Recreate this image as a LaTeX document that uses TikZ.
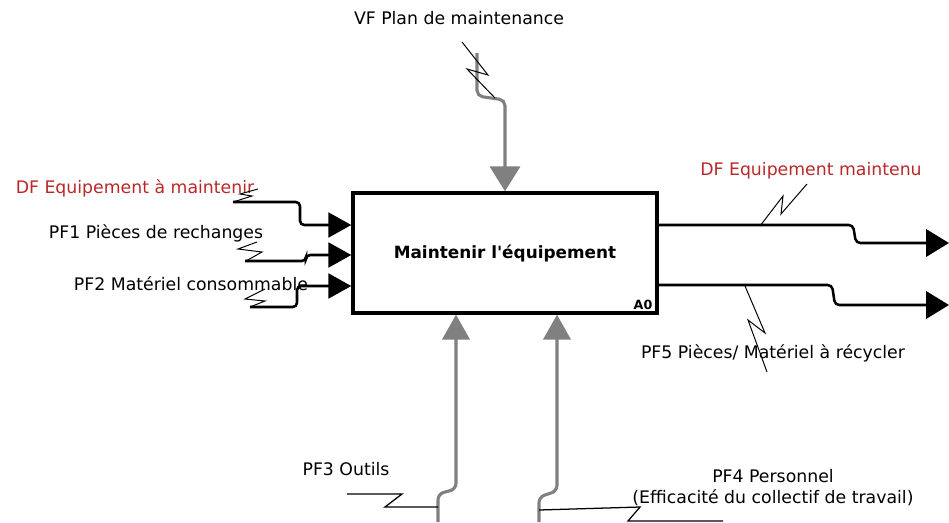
\documentclass[tikz,border=0pt]{standalone}
\usepackage{fontspec}
\setmainfont{DejaVu Sans}
\usetikzlibrary{arrows.meta}

\definecolor{dfred}{RGB}{185,40,40}
\definecolor{ctrlgray}{RGB}{128,128,128}

\tikzset{
  lbl/.style={font=\fontsize{12.3}{15}\selectfont, inner sep=0pt},
  fonction/.style={draw, line width=2.4pt, minimum width=7.6cm, minimum height=3cm,
    inner sep=0pt, font=\bfseries\fontsize{12}{14}\selectfont},
  entree/.style={line width=1.8pt, rounded corners=3pt,
    -{Triangle[length=0.57cm,width=0.62cm]}},
  sortie/.style={line width=1.8pt, rounded corners=3pt,
    -{Triangle[length=0.57cm,width=0.68cm]}},
  controle/.style={ctrlgray, line width=2.2pt, rounded corners=4pt,
    -{Triangle[length=0.62cm,width=0.75cm]}},
  mecanisme/.style={ctrlgray, line width=2.2pt, rounded corners=4pt,
    -{Triangle[length=0.62cm,width=0.68cm]}},
  squig/.style={line width=0.7pt},
}

\begin{document}
\begin{tikzpicture}[x=0.025cm,y=-0.025cm]
  \useasboundingbox (0,0) rectangle (949,522);

  \node[fonction] (box) at (505,253) {Maintenir l\textquotesingle équipement};
  \node[font=\bfseries\fontsize{9}{10}\selectfont, inner sep=0pt] (A0) at (643,305) {A0};

  \begin{scope}[every node/.style={lbl}]
    \node[text=dfred] (dfin)  at (135,188) {DF Equipement à maintenir};
    \node (pf1)  at (156,233) {PF1 Pièces de rechanges};
    \node (pf2)  at (191,284) {PF2 Matériel consommable};
    \node (vf)   at (459,18)  {VF Plan de maintenance};
    \node[text=dfred] (dfout) at (811,171) {DF Equipement maintenu};
    \node (pf5)  at (773,353) {PF5 Pièces/ Matériel à récycler};
    \node (pf3)  at (346,469) {PF3 Outils};
    \node[align=center] (pf4) at (773,488)
      {PF4 Personnel\\(Efficacité du collectif de travail)};
  \end{scope}

  % free ends of the flows
  \coordinate (dfinS)  at (233,202);
  \coordinate (pf1S)   at (245,261);
  \coordinate (pf2S)   at (250,307);
  \coordinate (vfS)    at (477,53);
  \coordinate (dfoutE) at (949,243);
  \coordinate (pf5E)   at (949,305);
  \coordinate (pf3S)   at (438,522);
  \coordinate (pf4S)   at (539,522);

  % inputs
  \draw[entree] (dfinS) -- (300,202) -- (300,225) -- (box.west |- 0,225);
  \draw[entree] (pf1S)  -- (306,261) -- (306,255) -- (box.west |- 0,255);
  \draw[entree] (pf2S)  -- (297,307) -- (297,286) -- (box.west |- 0,286);

  % control
  \draw[controle] (vfS) -- (477,96) -- (505,100) -- (box.north);

  % outputs
  \draw[sortie] (box.east |- 0,225) -- (853,225) -- (856,243) -- (dfoutE);
  \draw[sortie] (box.east |- 0,285) -- (832,285) -- (835,305) -- (pf5E);

  % mechanisms
  \draw[mecanisme] (pf3S) -- (438,494) -- (456,489) -- (456,0 |- box.south);
  \draw[mecanisme] (pf4S) -- (539,497) -- (557,491) -- (557,0 |- box.south);

  % squiggles
  \draw[squig] (258,189) -- (240,194) -- (252,196) -- (dfinS);
  \draw[squig] (257,242) -- (238,249) -- (262,252) -- (246,261);
  \draw[squig] (265,289) -- (245,299) -- (265,301) -- (pf2S);
  \draw[squig] (462,42) -- (488,75) -- (467,69) -- (495,98);
  \draw[squig] (807,184) -- (781,214) -- (783,196) -- (760,226);
  \draw[squig] (745,286) -- (765,333) -- (748,320) -- (767,372);
  \draw[line width=0.9pt] (347,494) -- (402,494) -- (385,507) -- (438,507);
  \draw[line width=0.9pt] (539,510) -- (640,507) -- (628,521) -- (723,521);

\end{tikzpicture}
\end{document}
